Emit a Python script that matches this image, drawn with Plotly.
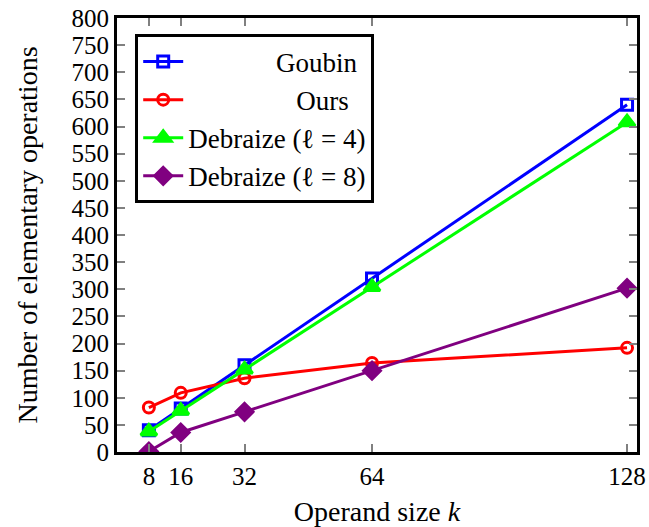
import plotly.graph_objects as go

k = [8, 16, 32, 64, 128]
goubin = [40, 80, 160, 320, 640]
ours = [82, 109, 136, 164, 192]
debraize4 = [38, 76, 152, 304, 608]
debraize8 = [1, 36, 74, 150, 302]
x_ticks = [8, 16, 32, 64, 128]
y_ticks = list(range(0, 801, 50))

NB = "\u00a0"
series = [
    (NB * 13 + "Goubin", goubin, "#0000ff", "square-open", 11),
    (NB * 16 + "Ours", ours, "#ff0000", "circle-open", 11),
    ("Debraize (ℓ = 4)", debraize4, "#00ff00", "triangle-up", 14),
    ("Debraize (ℓ = 8)", debraize8, "#800080", "diamond", 13),
]

fig = go.Figure()
for name, ys, col, sym, sz in series:
    fig.add_trace(go.Scatter(
        x=k, y=ys, name=name, mode="lines+markers",
        line=dict(color=col, width=3),
        marker=dict(symbol=sym, size=sz, color=col, line=dict(color=col, width=3)),
    ))

font = "Liberation Serif, DejaVu Serif, serif"
axis_common = dict(
    showline=True, linecolor="black", linewidth=3, mirror="ticks",
    ticks="inside", ticklen=8, tickwidth=2, tickcolor="#808080",
    showgrid=False, zeroline=False, automargin=False,
    tickfont=dict(family=font, size=25, color="black"),
)
fig.update_layout(
    width=649, height=527,
    margin=dict(l=117, r=12, t=18, b=75),
    paper_bgcolor="white", plot_bgcolor="white",
    font=dict(family=font, size=25, color="black"),
    xaxis=dict(range=[0, 130.5], tickvals=x_ticks,
               title=dict(text="Operand size <i>k</i>", font=dict(family=font, size=28), standoff=14),
               **axis_common),
    yaxis=dict(range=[0, 800], tickvals=y_ticks,
               title=dict(text="Number of elementary operations", font=dict(family=font, size=28), standoff=26),
               **axis_common),
    legend=dict(x=0.035, y=0.962, xanchor="left", yanchor="top",
                bgcolor="white", bordercolor="black", borderwidth=3,
                font=dict(family=font, size=27), tracegroupgap=0, itemwidth=40),
    showlegend=True,
)

fig.write_html("out.html", config={"displayModeBar": False},
               post_script="document.body.style.margin='0';")
